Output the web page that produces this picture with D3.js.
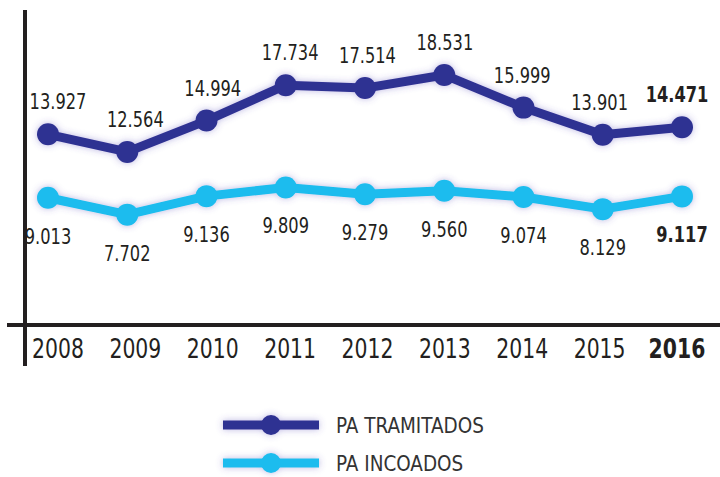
<!DOCTYPE html>
<html>
<head>
<meta charset="utf-8">
<style>
body { margin: 0; background: #fff; }
text { font-family: "Liberation Sans Narrow", "DejaVu Sans Condensed", "Liberation Sans", sans-serif; }
</style>
</head>
<body>
<svg id="chart" width="720" height="477"></svg>
<script src="https://d3js.org/d3.v7.min.js"></script>
<script>

var years = [2008, 2009, 2010, 2011, 2012, 2013, 2014, 2015, 2016];
var tramitados = [13927, 12564, 14994, 17734, 17514, 18531, 15999, 13901, 14471];
var incoados = [9013, 7702, 9136, 9809, 9279, 9560, 9074, 8129, 9117];
var seriesNames = ["PA TRAMITADOS", "PA INCOADOS"];
var seriesColors = ["#2e3192", "#1bbcee"];

var svg = d3.select("#chart");

// points and labels sit on slightly different grids in the original
var x = d3.scaleLinear().domain([2008, 2016]).range([48, 682]);
var xLabel = d3.scaleLinear().domain([2008, 2016]).range([58, 677]);
var y = d3.scaleLinear().domain([0, 20000]).range([314, 56]);

var fmt = function(v) { return d3.format(",")(v).replace(",", "."); };

// narrow-ish text: squeeze horizontally
function place(px, py, sx) {
  return "translate(" + px + "," + py + ") scale(" + sx + ",1)";
}

// soft glow behind lines
var defs = svg.append("defs");
var glow = defs.append("filter").attr("id", "glow")
  .attr("x", "-20%").attr("y", "-40%").attr("width", "140%").attr("height", "180%");
glow.append("feGaussianBlur").attr("in", "SourceAlpha").attr("stdDeviation", 3.5).attr("result", "b");
glow.append("feFlood").attr("flood-color", "#5448b8").attr("flood-opacity", 0.4);
glow.append("feComposite").attr("in2", "b").attr("operator", "in").attr("result", "s");
var merge = glow.append("feMerge");
merge.append("feMergeNode").attr("in", "s");
merge.append("feMergeNode").attr("in", "SourceGraphic");

// axes
svg.append("line")
  .attr("x1", 25).attr("x2", 25).attr("y1", 10).attr("y2", 366)
  .attr("stroke", "#231f20").attr("stroke-width", 4);
svg.append("line")
  .attr("x1", 7).attr("x2", 720).attr("y1", 325).attr("y2", 325)
  .attr("stroke", "#231f20").attr("stroke-width", 4);

svg.append("g").selectAll("text")
  .data(years).enter().append("text")
  .attr("transform", function(d) { return place(xLabel(d), 358, 0.84); })
  .attr("text-anchor", "middle")
  .attr("font-size", 27)
  .attr("font-weight", function(d, i) { return i === years.length - 1 ? "bold" : "normal"; })
  .attr("fill", "#231f20")
  .text(function(d) { return d; });

var line = d3.line()
  .x(function(d, i) { return x(years[i]); })
  .y(function(d) { return y(d); });

function drawSeries(values, color, labelDy, lx) {
  var g = svg.append("g").attr("filter", "url(#glow)");
  g.append("path")
    .datum(values)
    .attr("d", line)
    .attr("fill", "none")
    .attr("stroke", color)
    .attr("stroke-width", 9)
    .attr("stroke-linejoin", "round");
  g.selectAll("circle")
    .data(values).enter().append("circle")
    .attr("cx", function(d, i) { return x(years[i]); })
    .attr("cy", function(d) { return y(d); })
    .attr("r", 11)
    .attr("fill", color);

  svg.append("g").selectAll("text")
    .data(values).enter().append("text")
    .attr("transform", function(d, i) { return place(lx(years[i]), y(d) + labelDy, 0.86); })
    .attr("text-anchor", "middle")
    .attr("font-size", 21)
    .attr("font-weight", function(d, i) { return i === values.length - 1 ? "bold" : "normal"; })
    .attr("fill", "#231f20")
    .text(fmt);
}

drawSeries(incoados, seriesColors[1], 46, x);
drawSeries(tramitados, seriesColors[0], -25, xLabel);

// legend
var legend = svg.append("g");
[0, 1].forEach(function(i) {
  var ly = 425 + i * 38;
  var lg = legend.append("g").attr("filter", "url(#glow)");
  lg.append("line")
    .attr("x1", 223).attr("x2", 319).attr("y1", ly).attr("y2", ly)
    .attr("stroke", seriesColors[i]).attr("stroke-width", 9);
  lg.append("circle")
    .attr("cx", 271).attr("cy", ly).attr("r", 10)
    .attr("fill", seriesColors[i]);
  legend.append("text")
    .attr("transform", place(336, ly + 8, 0.93))
    .attr("font-size", 22)
    .attr("fill", "#333")
    .text(seriesNames[i]);
});

</script>
</body>
</html>
